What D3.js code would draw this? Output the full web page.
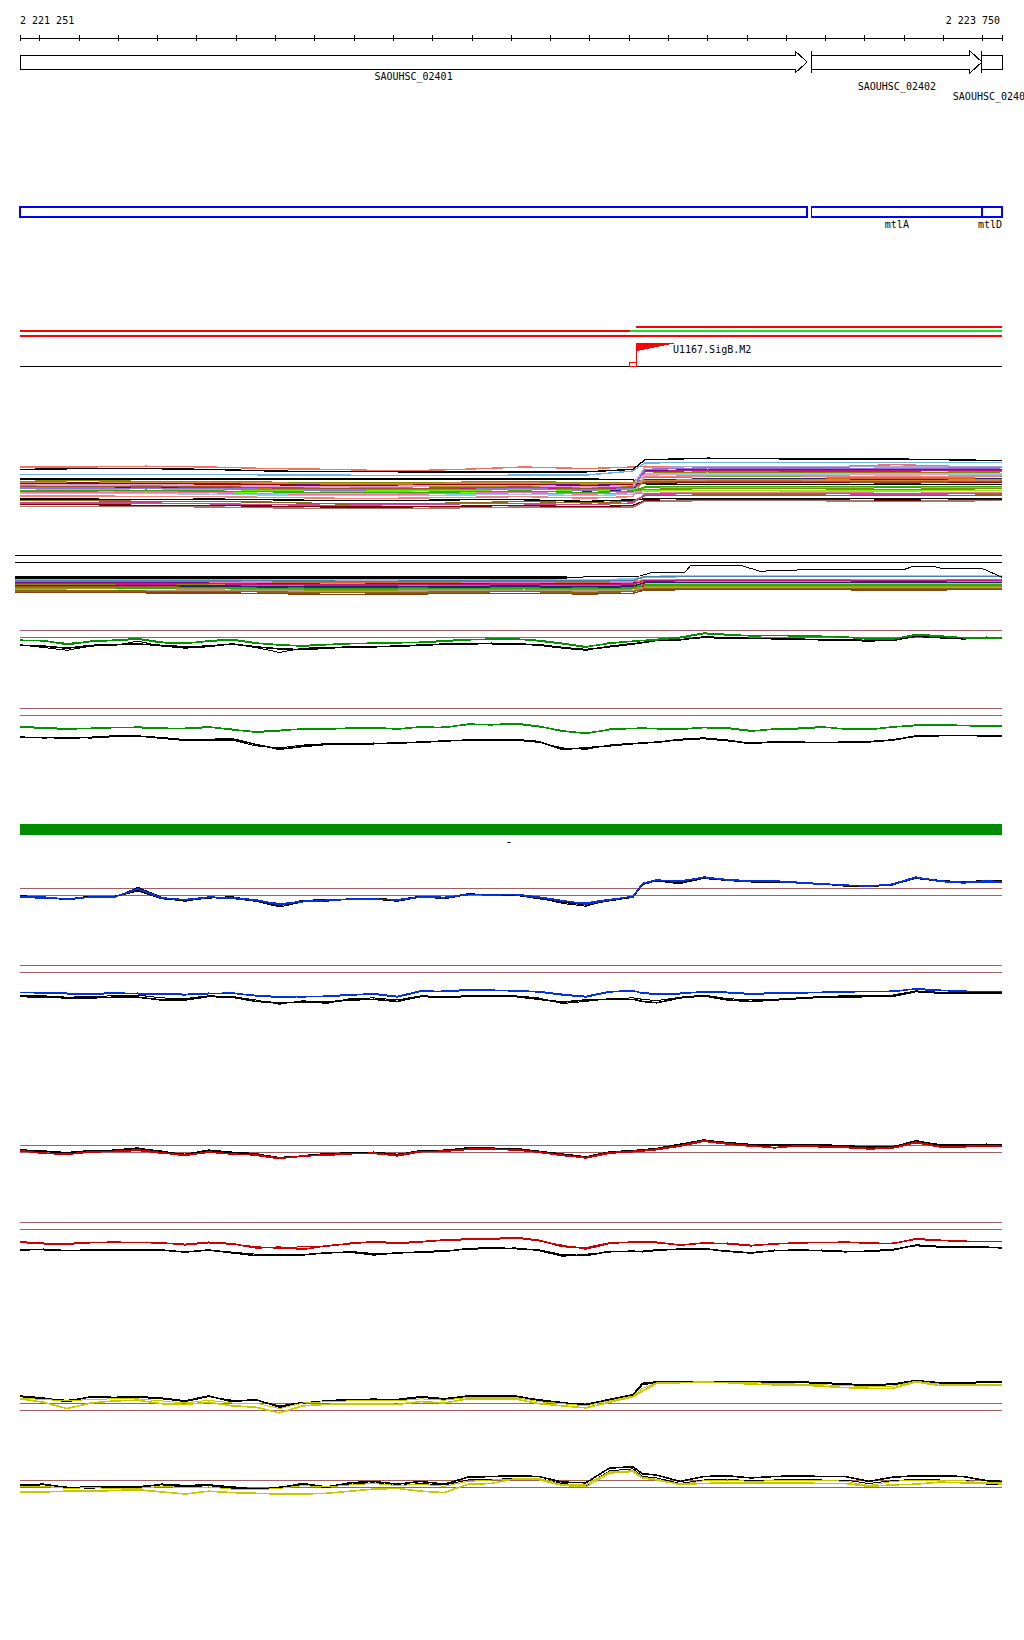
<!DOCTYPE html>
<html><head><meta charset="utf-8">
<script src="https://cdn.jsdelivr.net/npm/d3@7"></script>
<style>
html,body{margin:0;padding:0;background:#fff;overflow:hidden;}
svg{display:block;}
text{font-family:"DejaVu Sans Mono","Liberation Mono",monospace;font-size:10px;fill:#000;}
</style></head><body>
<svg id="chart" width="1024" height="1640"></svg>
<script>
// ---------------- DATA ----------------
const viewStart = 2221251, viewEnd = 2223750;
const rulerLabels = ["2 221 251", "2 223 750"];
const tickPositions = [2221300,2221400,2221500,2221600,2221700,2221800,2221900,2222000,2222100,2222200,2222300,2222400,2222500,2222600,2222700,2222800,2222900,2223000,2223100,2223200,2223300,2223400,2223500,2223600,2223700];

const geneNames  = ["SAOUHSC_02401","SAOUHSC_02402","SAOUHSC_02403"];
const geneStarts = [2221100, 2223266, 2223699];
const geneEnds   = [2223254, 2223699, 2223900];

const operonNames  = ["", "mtlA", "mtlD"];
const operonStarts = [2221100, 2223266, 2223699];
const operonEnds   = [2223254, 2223699, 2223900];

const transcriptStarts = [2222819, 2221100, 2222803, 2221100];
const transcriptEnds   = [2223900, 2222803, 2223900, 2223900];
const transcriptRows   = [0, 1, 1, 2];
const transcriptKinds  = ["red", "red", "green", "red"];

const promoterName = "U1167.SigB.M2";
const promoterPos = 2222819;
const promoterBoxStart = 2222803;

const conditionBarStart = 2221100, conditionBarEnd = 2223900;
const conditionBarLabel = "-";

const probePos = [2221251,2221311,2221371,2221431,2221491,2221551,2221611,2221671,2221731,2221791,
 2221851,2221911,2221971,2222031,2222091,2222151,2222211,2222271,2222331,2222391,
 2222451,2222511,2222571,2222631,2222691,2222751,2222811,2222835,2222871,2222931,
 2222991,2223051,2223111,2223171,2223231,2223291,2223351,2223411,2223471,2223531,
 2223591,2223651,2223711,2223750];

// panel G1
const g1GreenA = [-0.5,-0.5,-1.1,-0.6,-0.5,-0.3,-0.8,-0.9,-0.6,-0.4,-0.9,-1.1,-1.3,-1.1,-0.9,-0.9,-0.8,-0.8,-0.6,-0.4,-0.3,-0.3,-0.5,-0.9,-1.4,-0.9,-0.6,-0.5,-0.4,-0.1,0.5,0.3,0.2,0.2,0.2,0.1,0.0,-0.3,-0.3,0.3,0.1,-0.1,-0.1,-0.1];
const g1GreenB = [-0.4,-0.6,-0.9,-0.7,-0.4,-0.2,-0.7,-1.0,-0.5,-0.3,-0.8,-1.2,-1.2,-1.0,-1.0,-0.8,-0.9,-0.7,-0.5,-0.3,-0.4,-0.2,-0.6,-1.0,-1.5,-0.8,-0.6,-0.5,-0.3,0.0,0.6,0.4,0.1,0.2,0.1,0.1,-0.1,-0.2,-0.3,0.4,0.2,-0.1,0.0,-0.1];
const g1BlackA = [-1.2,-1.3,-1.6,-1.2,-1.1,-1.0,-1.2,-1.4,-1.3,-1.0,-1.4,-1.7,-1.8,-1.6,-1.4,-1.4,-1.3,-1.2,-1.0,-1.0,-0.9,-1.0,-1.1,-1.5,-1.8,-1.4,-1.0,-0.8,-0.5,-0.4,0.0,-0.1,-0.2,-0.2,-0.3,-0.4,-0.4,-0.5,-0.5,0.1,-0.1,-0.2,-0.2,-0.2];
const g1BlackB = [-1.1,-1.5,-1.9,-1.3,-1.2,-0.6,-1.3,-1.6,-1.4,-1.0,-1.5,-2.2,-1.6,-1.5,-1.5,-1.3,-1.3,-1.1,-1.0,-0.9,-1.0,-1.0,-1.2,-1.6,-1.9,-1.3,-0.9,-0.8,-0.5,-0.4,-0.1,-0.2,-0.2,-0.3,-0.3,-0.4,-0.5,-0.6,-0.5,0.2,-0.1,-0.3,-0.2,-0.2];
// panel G2
const g2GreenA = [-1.7,-1.9,-2.0,-1.9,-1.8,-1.8,-1.9,-1.9,-1.7,-2.1,-2.4,-2.2,-2.0,-2.0,-1.9,-1.8,-2.0,-1.7,-1.8,-1.3,-1.4,-1.2,-1.6,-2.3,-2.6,-2.1,-1.9,-1.9,-1.9,-2.0,-1.8,-1.9,-2.3,-2.0,-1.9,-1.7,-2.0,-2.1,-1.7,-1.5,-1.4,-1.5,-1.6,-1.6];
const g2GreenB = [-1.6,-1.8,-1.9,-2.0,-1.8,-1.7,-1.8,-2.0,-1.8,-2.0,-2.5,-2.3,-1.9,-2.1,-1.8,-1.9,-1.9,-1.8,-1.7,-1.4,-1.3,-1.3,-1.7,-2.2,-2.7,-2.0,-1.9,-1.8,-2.0,-2.1,-1.8,-1.8,-2.2,-2.1,-2.0,-1.8,-1.9,-2.0,-1.8,-1.4,-1.5,-1.5,-1.5,-1.6];
const g2BlackA = [-3.2,-3.2,-3.3,-3.2,-3.0,-3.0,-3.3,-3.6,-3.5,-3.4,-4.2,-4.9,-4.5,-4.2,-4.1,-4.1,-4.0,-3.9,-3.7,-3.6,-3.6,-3.5,-3.8,-4.9,-4.7,-4.4,-4.1,-4.0,-3.9,-3.5,-3.3,-3.6,-4.1,-3.8,-3.9,-3.9,-3.9,-3.8,-3.6,-3.0,-2.9,-2.9,-3.0,-3.0];
const g2BlackB = [-3.1,-3.3,-3.2,-3.3,-3.1,-3.0,-3.2,-3.5,-3.7,-3.6,-4.4,-4.7,-4.3,-4.1,-4.2,-4.0,-4.1,-3.8,-3.8,-3.5,-3.7,-3.6,-3.9,-4.7,-4.9,-4.3,-4.0,-4.1,-3.8,-3.6,-3.4,-3.7,-4.0,-3.9,-3.8,-4.0,-3.8,-3.9,-3.5,-3.1,-3.0,-2.9,-2.9,-3.0];
// panel B1
const b1BlueA = [-0.2,-0.3,-0.6,-0.3,-0.3,0.9,-0.4,-0.7,-0.3,-0.4,-0.7,-1.4,-0.9,-0.8,-0.6,-0.6,-0.7,-0.3,-0.4,0.1,0.0,0.1,-0.3,-0.8,-1.3,-0.7,-0.2,1.6,2.1,2.0,2.5,2.2,2.0,2.0,1.8,1.6,1.4,1.3,1.5,2.5,2.0,1.8,2.0,1.9];
const b1BlueB = [-0.3,-0.5,-0.5,-0.4,-0.2,0.8,-0.5,-0.6,-0.4,-0.5,-0.8,-1.2,-1.0,-0.7,-0.7,-0.5,-0.8,-0.2,-0.3,0.0,0.1,0.0,-0.4,-0.9,-1.1,-0.6,-0.3,1.7,2.2,1.9,2.6,2.1,1.9,1.9,1.7,1.5,1.4,1.2,1.6,2.6,1.9,1.7,1.8,1.8];
const b1BlackA = [-0.1,-0.4,-0.6,-0.2,-0.2,0.6,-0.5,-0.8,-0.4,-0.3,-0.8,-1.5,-0.8,-0.7,-0.6,-0.5,-0.7,-0.2,-0.5,0.1,0.0,0.0,-0.5,-1.0,-1.4,-0.8,-0.3,1.5,2.1,1.7,2.4,2.1,1.9,1.8,1.8,1.6,1.3,1.3,1.5,2.4,2.0,1.9,2.0,2.0];
const b1BlackB = [-0.2,-0.3,-0.7,-0.3,-0.4,1.1,-0.3,-0.9,-0.3,-0.5,-0.9,-1.7,-1.0,-0.9,-0.5,-0.6,-0.9,-0.3,-0.4,0.2,0.0,0.1,-0.4,-1.2,-1.6,-0.7,-0.2,1.6,2.0,1.6,2.6,2.2,2.0,2.1,1.7,1.5,1.4,1.2,1.4,2.5,2.1,1.8,2.1,2.0];
// panel B2
const b2BlueA = [-2.9,-3.0,-3.1,-3.1,-3.0,-3.1,-3.1,-3.2,-3.1,-3.0,-3.4,-3.6,-3.5,-3.5,-3.3,-3.1,-3.5,-2.7,-2.8,-2.6,-2.6,-2.7,-2.8,-3.2,-3.5,-2.8,-2.7,-3.0,-3.1,-3.1,-2.8,-2.9,-3.1,-3.0,-3.0,-2.9,-2.8,-2.8,-2.8,-2.4,-2.6,-2.8,-2.8,-2.8];
const b2BlueB = [-2.9,-2.9,-3.0,-3.2,-3.1,-3.0,-3.2,-3.3,-3.0,-3.1,-3.3,-3.5,-3.6,-3.4,-3.2,-3.2,-3.6,-2.8,-2.7,-2.5,-2.7,-2.6,-2.9,-3.3,-3.6,-2.9,-2.6,-3.1,-3.2,-3.0,-2.9,-3.0,-3.2,-3.1,-2.9,-3.0,-2.9,-2.8,-2.7,-2.5,-2.7,-2.7,-2.8,-2.8];
const b2BlackA = [-3.5,-3.6,-3.7,-3.7,-3.6,-3.6,-4.0,-4.0,-3.5,-3.6,-4.2,-4.4,-4.3,-4.3,-4.0,-3.9,-4.2,-3.5,-3.6,-3.5,-3.5,-3.5,-3.9,-4.3,-4.0,-3.9,-3.9,-4.2,-4.4,-3.7,-3.4,-4.0,-4.2,-4.0,-3.8,-3.6,-3.6,-3.5,-3.5,-2.8,-3.0,-3.0,-3.0,-3.0];
const b2BlackB = [-3.3,-3.4,-3.6,-3.5,-3.4,-3.3,-3.7,-3.8,-3.4,-3.5,-4.0,-4.6,-4.1,-4.5,-3.8,-3.7,-4.0,-3.4,-3.5,-3.4,-3.3,-3.4,-3.7,-4.5,-4.2,-3.8,-3.7,-3.9,-4.1,-3.6,-3.3,-3.8,-4.0,-3.9,-3.7,-3.5,-3.4,-3.4,-3.3,-2.7,-2.9,-2.9,-2.9,-2.9];
// panel R1
const r1RedA = [0.2,-0.2,-0.3,0.0,0.1,0.3,-0.1,-0.5,0.0,-0.3,-0.4,-0.9,-0.6,-0.4,-0.2,-0.2,-0.5,0.1,0.1,0.4,0.4,0.3,0.0,-0.5,-0.8,-0.1,0.1,0.2,0.4,0.9,1.6,1.2,0.9,0.6,0.9,0.8,0.7,0.5,0.6,1.4,0.8,0.8,0.9,0.9];
const r1RedB = [0.1,-0.1,-0.4,0.1,0.0,0.2,-0.2,-0.4,-0.1,-0.2,-0.5,-1.0,-0.5,-0.5,-0.3,-0.1,-0.6,0.0,0.2,0.3,0.3,0.4,-0.1,-0.4,-0.9,-0.2,0.0,0.1,0.3,0.8,1.5,1.1,0.8,0.7,0.8,0.7,0.6,0.4,0.5,1.3,0.7,0.7,0.8,0.8];
const r1BlackA = [0.3,0.1,-0.1,0.2,0.2,0.5,0.1,-0.4,0.2,-0.1,-0.3,-0.8,-0.6,-0.3,-0.1,-0.1,-0.4,0.2,0.2,0.6,0.5,0.5,0.1,-0.3,-0.7,0.0,0.2,0.3,0.5,1.1,1.7,1.3,1.0,1.0,1.0,1.0,0.9,0.7,0.7,1.6,1.0,1.0,1.1,1.0];
const r1BlackB = [0.2,0.2,-0.2,0.1,0.3,0.6,0.0,-0.3,0.3,0.0,-0.2,-0.9,-0.5,-0.2,-0.2,0.0,-0.3,0.1,0.3,0.5,0.6,0.4,0.0,-0.4,-0.8,-0.1,0.1,0.2,0.4,1.0,1.6,1.4,1.1,0.9,1.1,0.9,0.8,0.6,0.8,1.5,1.1,0.9,1.0,1.0];
// panel R2
const r2RedA = [-1.9,-2.1,-2.1,-1.9,-1.9,-1.9,-2.0,-2.2,-1.9,-2.1,-2.7,-2.6,-2.9,-2.4,-2.1,-1.8,-2.0,-1.8,-1.6,-1.5,-1.4,-1.2,-1.6,-2.5,-2.7,-2.0,-1.9,-1.8,-1.9,-2.3,-2.0,-2.1,-2.4,-2.1,-2.0,-1.9,-1.9,-2.0,-2.1,-1.4,-1.6,-1.8,-1.8,-1.8];
const r2RedB = [-1.8,-2.0,-2.2,-2.0,-1.8,-2.0,-1.9,-2.3,-2.0,-2.2,-2.5,-2.8,-2.5,-2.5,-2.0,-1.9,-2.1,-1.9,-1.5,-1.4,-1.5,-1.3,-1.7,-2.3,-2.9,-2.1,-1.8,-1.9,-2.0,-2.2,-2.1,-2.0,-2.3,-2.2,-1.9,-2.0,-1.8,-2.1,-2.0,-1.5,-1.7,-1.7,-1.8,-1.8];
const r2BlackA = [-3.0,-2.9,-3.1,-3.0,-3.0,-3.0,-3.0,-3.3,-3.0,-3.4,-3.8,-3.7,-3.7,-3.4,-3.3,-3.7,-3.4,-3.3,-3.2,-2.8,-2.7,-2.8,-3.0,-3.7,-3.8,-3.2,-3.2,-3.2,-3.0,-2.9,-2.8,-3.2,-3.4,-3.1,-3.0,-3.1,-3.2,-3.2,-3.0,-2.3,-2.5,-2.6,-2.6,-2.7];
const r2BlackB = [-2.9,-3.0,-3.0,-3.1,-2.9,-3.1,-3.1,-3.2,-3.1,-3.3,-3.6,-3.8,-3.6,-3.5,-3.2,-3.5,-3.5,-3.2,-3.1,-2.9,-2.8,-2.7,-3.1,-3.9,-3.6,-3.3,-3.1,-3.3,-3.1,-2.8,-2.9,-3.1,-3.5,-3.0,-3.1,-3.0,-3.3,-3.1,-2.9,-2.4,-2.6,-2.5,-2.7,-2.7];
// panel Y1
const y1YellowA = [1.6,1.1,0.2,1.0,1.3,1.4,0.9,0.8,1.1,0.6,0.4,-0.4,0.6,0.8,0.9,0.9,0.8,1.2,1.0,1.6,1.6,1.6,0.9,0.6,0.3,1.1,1.9,2.7,3.8,3.9,4.0,3.9,3.7,3.6,3.6,3.4,3.2,3.1,3.1,4.0,3.5,3.5,3.5,3.5];
const y1YellowB = [1.7,1.5,1.3,1.5,1.6,1.6,1.3,1.0,1.4,1.0,1.0,0.2,1.0,1.2,1.3,1.3,1.3,1.6,1.4,1.8,1.8,1.8,1.2,0.9,0.6,1.3,2.0,3.1,3.9,4.0,4.0,4.0,3.9,3.8,3.7,3.6,3.5,3.3,3.4,4.1,3.7,3.7,3.7,3.7];
const y1BlackA = [2.0,1.7,1.2,1.9,1.8,1.9,1.7,1.3,2.0,1.2,1.5,0.4,1.0,1.3,1.5,1.5,1.5,1.9,1.6,2.0,2.0,2.0,1.4,1.0,0.8,1.5,2.2,3.8,4.0,4.1,4.1,4.1,4.1,4.0,4.0,3.9,3.7,3.6,3.7,4.2,3.9,3.9,4.0,4.0];
const y1BlackB = [1.9,1.6,1.4,1.8,1.7,1.8,1.6,1.2,1.9,1.4,1.4,0.6,1.1,1.2,1.4,1.6,1.4,1.8,1.5,1.9,1.9,1.9,1.5,1.1,0.7,1.4,2.1,3.6,3.9,4.0,4.0,4.0,4.0,3.9,3.9,3.8,3.6,3.5,3.6,4.1,3.8,3.8,3.9,3.9];
// panel Y2
const y2YellowA = [-0.7,-0.7,-0.6,-0.6,-0.5,-0.4,-0.7,-1.0,-0.6,-0.8,-0.9,-1.0,-1.0,-0.9,-0.6,-0.3,-0.2,-0.6,-0.8,0.4,0.5,1.2,1.2,0.3,0.3,2.1,2.2,1.3,1.0,0.4,0.5,0.6,0.6,0.6,0.6,0.5,0.5,0.1,0.3,0.4,0.7,0.6,0.6,0.6];
const y2YellowB = [0.0,0.1,-0.2,-0.1,-0.2,-0.2,0.1,-0.1,0.0,-0.3,-0.4,-0.2,0.2,0.0,0.3,0.5,0.2,0.4,0.1,0.8,1.0,1.1,1.0,0.2,0.0,1.9,2.4,1.4,1.1,0.3,0.9,1.0,0.8,0.9,1.0,1.0,0.8,0.2,0.8,1.0,1.0,0.9,0.5,0.4];
const y2BlackA = [0.3,0.4,-0.1,0.0,0.0,-0.1,0.4,0.2,0.3,0.0,-0.3,-0.1,0.5,0.0,0.6,0.8,0.4,0.8,0.4,1.4,1.5,1.6,1.5,0.7,0.6,2.7,2.9,1.9,1.7,0.8,1.5,1.6,1.3,1.5,1.6,1.5,1.5,0.8,1.4,1.6,1.6,1.5,0.9,0.8];
const y2BlackB = [0.2,0.3,0.0,-0.2,0.1,0.1,0.3,0.0,0.2,-0.2,-0.4,0.0,0.3,-0.1,0.4,0.6,0.2,0.5,0.3,1.0,1.1,1.2,1.2,0.5,0.2,2.3,2.6,1.5,1.3,0.5,1.0,1.1,0.9,1.0,1.1,1.0,1.0,0.5,0.9,1.1,1.0,1.0,0.4,0.3];

const refLevels = [0, 1];

// multi-condition bundle 1
const bundle1Pos = [2221251,2221411,2221572,2221732,2221892,2222053,2222213,2222373,2222533,2222694,2222811,2222841,2223002,2223241,2223480,2223750];
const bundle1Colors = ["#f47060","#000000","#6cb4f0","#000000","#8b8b00","#d2691e","#8b008b","#a9a0dc","#9a9a20","#cd6a2a","#c71585","#1a2a6e","#66ee00","#888810","#7cfc00","#ff69b4","#87cefa","#fa8072","#000000","#8b6914","#cc4499","#800000","#a0786e","#cd853f","#990000","#a0522d","#dda0dd","#33aa00","#9370db"];
const bundle1Values = [
 [12.0,12.0,12.1,12.0,11.8,11.7,11.5,11.7,12.0,11.8,12.0,12.1,12.0,11.9,12.3,11.9],
 [11.7,11.8,11.8,11.7,11.5,11.4,11.4,11.4,11.4,11.4,11.7,12.9,13.1,13.0,13.0,12.8],
 [11.1,11.1,11.1,11.1,11.0,11.0,10.9,10.9,11.0,11.0,11.5,12.5,12.6,12.6,12.6,12.6],
 [10.5,10.5,10.5,10.5,10.5,10.5,10.5,10.5,10.5,10.5,10.4,9.9,9.8,9.8,9.8,9.8],
 [10.2,10.3,10.2,10.2,10.1,10.0,10.0,10.1,10.2,10.0,10.1,11.2,11.4,11.4,11.3,11.4],
 [10.0,10.0,10.1,10.0,9.9,9.8,9.8,9.9,10.0,9.8,9.9,10.4,10.5,10.5,10.6,10.5],
 [9.9,9.9,9.8,9.9,9.8,9.7,9.7,9.8,9.9,9.7,9.8,11.5,11.7,11.7,11.6,11.7],
 [9.8,9.8,9.9,9.7,9.6,9.7,9.6,9.8,9.8,9.6,9.7,11.9,12.1,12.1,12.0,12.0],
 [9.7,9.6,9.7,9.7,9.5,9.4,9.5,9.6,9.6,9.4,9.6,10.7,10.8,10.8,10.7,10.8],
 [9.5,9.5,9.6,9.5,9.3,9.3,9.2,9.4,9.5,9.3,9.4,10.2,10.3,10.3,10.2,10.3],
 [9.5,9.6,9.5,9.4,9.4,9.3,9.3,9.3,9.4,9.2,9.3,11.4,11.6,11.5,11.5,11.6],
 [9.3,9.3,9.4,9.3,9.2,9.1,9.1,9.2,9.3,9.0,9.2,10.4,10.5,10.5,10.4,10.5],
 [9.3,9.2,9.3,9.2,9.1,9.0,9.0,9.1,9.2,9.1,9.2,9.4,9.5,9.5,9.4,9.5],
 [9.1,9.1,9.0,9.0,8.9,8.8,8.8,8.9,9.0,8.8,9.0,9.2,9.3,9.3,9.2,9.3],
 [8.9,8.9,8.8,8.8,8.7,8.6,8.7,8.8,8.8,8.6,8.8,9.0,9.1,9.0,9.0,9.1],
 [8.9,8.8,8.9,8.8,8.6,8.5,8.6,8.7,8.8,8.6,8.8,8.7,8.8,8.8,8.7,8.8],
 [8.7,8.7,8.7,8.6,8.5,8.4,8.4,8.5,8.6,8.4,8.6,11.0,11.1,11.1,11.0,11.1],
 [8.4,8.4,8.3,8.3,8.2,8.1,8.1,8.2,8.3,8.1,8.3,10.8,10.9,10.9,10.8,10.9],
 [8.0,8.0,7.9,8.0,7.9,7.8,7.8,7.9,7.9,7.7,7.9,8.0,8.1,8.1,8.0,8.1],
 [7.8,7.8,7.7,7.7,7.6,7.4,7.4,7.5,7.7,7.5,7.7,8.4,8.5,8.5,8.4,8.5],
 [7.5,7.5,7.5,7.4,7.3,7.2,7.3,7.4,7.4,7.3,7.5,8.6,8.7,8.7,8.6,8.7],
 [7.3,7.3,7.2,7.2,7.1,7.0,7.0,7.1,7.2,7.0,7.2,7.8,7.9,7.9,7.8,7.9],
 [7.1,7.1,7.1,7.0,6.9,6.8,6.8,6.9,7.0,6.9,7.0,7.7,7.8,7.8,7.7,7.8],
 [10.1,10.1,10.0,10.1,10.0,9.9,9.9,10.0,10.0,9.9,10.0,10.3,10.4,10.4,10.3,10.4],
 [9.9,10.0,9.9,9.8,9.8,9.6,9.7,9.8,9.8,9.6,9.8,10.0,10.1,10.1,10.0,10.1],
 [9.6,9.6,9.5,9.6,9.4,9.3,9.3,9.4,9.5,9.3,9.5,10.1,10.2,10.2,10.1,10.2],
 [9.8,9.7,9.8,9.7,9.6,9.5,9.6,9.7,9.7,9.5,9.7,11.1,11.2,11.2,11.1,11.2],
 [9.0,9.0,9.1,9.0,8.9,8.8,8.8,8.9,9.0,8.8,9.0,9.5,9.6,9.6,9.5,9.6],
 [9.4,9.4,9.3,9.3,9.2,9.1,9.2,9.2,9.3,9.1,9.3,11.7,11.9,11.9,11.8,11.9]
];

// multi-condition bundle 2
const bundle2Pos = [2221238,2221411,2221572,2221732,2221892,2222053,2222213,2222373,2222533,2222694,2222811,2222841,2223002,2223241,2223480,2223750];
const bundle2Colors = ["#87cefa","#a9a0dc","#fa8072","#d2691e","#ff69b4","#8b008b","#cd853f","#8b8b00","#7cfc00","#a0522d","#9a9a20","#bc8f8f","#990000","#1a2a6e","#4682b4","#8b6914","#c71585","#33aa00","#8b4513"];
const bundle2Values = [
 [11.3,11.3,11.2,11.3,11.2,11.1,11.1,11.2,11.2,11.0,11.3,11.9,12.1,12.1,12.0,12.1],
 [11.0,11.1,11.0,11.0,10.9,10.8,10.8,10.9,11.0,10.9,11.0,11.7,11.9,11.9,11.8,11.9],
 [10.8,10.8,10.7,10.8,10.6,10.5,10.5,10.6,10.7,10.4,10.6,11.1,11.2,11.2,11.1,11.2],
 [10.6,10.5,10.6,10.5,10.4,10.2,10.3,10.4,10.5,10.3,10.4,10.9,11.0,11.0,10.9,11.0],
 [10.4,10.4,10.3,10.4,10.2,10.0,10.1,10.2,10.3,10.1,10.3,10.7,10.8,10.8,10.7,10.8],
 [10.3,10.2,10.3,10.2,10.1,9.9,10.0,10.1,10.2,10.0,10.2,10.5,10.6,10.6,10.5,10.6],
 [10.0,10.0,9.9,10.0,9.8,9.6,9.7,9.8,9.9,9.7,9.9,10.4,10.5,10.5,10.4,10.5],
 [9.8,9.7,9.8,9.7,9.5,9.3,9.4,9.5,9.7,9.5,9.7,9.9,10.0,10.0,9.9,10.0],
 [9.4,9.4,9.5,9.4,9.2,9.0,9.1,9.2,9.3,9.1,9.3,10.1,10.2,10.2,10.1,10.2],
 [9.5,9.5,9.4,9.5,9.3,9.1,9.2,9.3,9.4,9.2,9.4,9.8,9.9,9.9,9.8,9.9],
 [9.0,9.0,8.9,8.9,8.6,8.4,8.5,8.6,8.8,8.6,8.8,9.3,9.4,9.4,9.3,9.4],
 [8.6,8.4,8.4,8.5,8.3,8.1,8.2,8.3,8.4,8.2,8.4,9.1,9.2,9.2,9.1,9.2],
 [9.2,9.2,9.1,9.2,9.0,8.8,8.9,9.0,9.1,8.9,9.1,9.6,9.7,9.7,9.6,9.7],
 [9.6,9.6,9.6,9.5,9.4,9.2,9.3,9.4,9.5,9.3,9.5,10.3,10.4,10.4,10.3,10.4],
 [10.9,10.9,10.8,10.9,10.8,10.7,10.7,10.8,10.8,10.7,10.9,11.8,11.9,11.9,11.8,11.9],
 [8.3,8.3,8.2,8.2,8.0,7.8,7.9,8.0,8.1,7.9,8.1,8.8,8.9,8.9,8.8,8.9],
 [10.1,10.1,10.0,10.1,9.9,9.7,9.8,9.9,10.0,9.8,10.0,10.8,10.9,10.9,10.8,10.9],
 [9.1,9.1,9.0,9.1,8.9,8.7,8.8,8.9,9.0,8.8,9.0,9.7,9.8,9.8,9.7,9.8],
 [7.9,7.9,7.8,7.8,7.6,7.4,7.5,7.6,7.7,7.5,7.7,8.5,8.6,8.6,8.5,8.6]
];
const bundle2TopPos  = [2221238,2222643,2222727,2222829,2222859,2222943,2222958,2223083,2223134,2223292,2223503,2223521,2223579,2223597,2223699,2223750];
const bundle2TopVals = [11.6,11.6,11.9,12.0,12.9,12.9,14.7,14.7,13.2,13.7,13.7,14.3,14.3,13.9,13.9,11.7];

// ---------------- DRAW ----------------
const svg = d3.select("#chart");
svg.append("rect").attr("width",1024).attr("height",1640).attr("fill","#fff");
const g = svg.append("g").attr("shape-rendering","crispEdges");
const x = d3.scaleLinear().domain([viewStart, viewEnd]).range([20, 1002]);
const cx = v => Math.max(x.range()[0], Math.min(x.range()[1], x(v)));

// ruler
const rulerY = 38;
g.append("line").attr("x1",x(viewStart)).attr("x2",x(viewEnd)).attr("y1",rulerY).attr("y2",rulerY).attr("stroke","#000");
g.selectAll(".tick").data([viewStart].concat(tickPositions, [viewEnd])).join("line")
 .attr("x1",d=>Math.round(x(d))+0.5).attr("x2",d=>Math.round(x(d))+0.5).attr("y1",rulerY-3).attr("y2",rulerY+3).attr("stroke","#000");
svg.append("text").attr("x",x(viewStart)).attr("y",24).text(rulerLabels[0]);
svg.append("text").attr("x",1000).attr("y",24).attr("text-anchor","end").text(rulerLabels[1]);

// gene arrows
const bodyT = 55, bodyB = 69, headT = 51, headB = 73, headL = 12;
geneNames.forEach((name,i)=>{
  const s = x(geneStarts[i]), e = x(geneEnds[i]);
  const xs = cx(geneStarts[i]), xe = cx(geneEnds[i]);
  const truncL = s < x.range()[0], truncR = e > x.range()[1];
  let p;
  if (!truncR) {
    const hb = xe - headL;
    p = `M${xs},${bodyT}H${hb}V${headT}L${xe},${(headT+headB)/2}L${hb},${headB}V${bodyB}H${xs}Z`;
  } else {
    p = `M${xs},${bodyT}H${xe}V${bodyB}H${xs}Z`;
  }
  g.append("path").attr("d",p).attr("fill","#fff").attr("stroke","#000");
  if (!truncL) g.append("line").attr("x1",xs).attr("x2",xs).attr("y1",headT).attr("y2",headB).attr("stroke","#000");
  svg.append("text").attr("x",(xs+xe)/2).attr("y",80 + i*10).attr("text-anchor","middle").text(name);
});

// operon boxes
operonNames.forEach((name,i)=>{
  const xs = cx(operonStarts[i]), xe = cx(operonEnds[i]);
  g.append("rect").attr("x",xs).attr("y",207).attr("width",xe-xs).attr("height",10)
   .attr("fill","none").attr("stroke","#0000ff").attr("stroke-width",1.3);
  if (name) {
    const w = name.length*6.02;
    const c = Math.min((xs+xe)/2, x.range()[1] - w/2);
    svg.append("text").attr("x",c).attr("y",228).attr("text-anchor","middle").text(name);
  }
});

// transcripts
const rowY = [327, 331, 336];
const kindColor = {red:"#ff0000", green:"#22dd22"};
transcriptStarts.forEach((s,i)=>{
  g.append("line").attr("x1",cx(s)).attr("x2",cx(transcriptEnds[i]))
   .attr("y1",rowY[transcriptRows[i]]).attr("y2",rowY[transcriptRows[i]])
   .attr("stroke",kindColor[transcriptKinds[i]]).attr("stroke-width",1.3);
});

// promoter
const baseY = 366;
g.append("line").attr("x1",x(viewStart)).attr("x2",x(viewEnd)).attr("y1",baseY).attr("y2",baseY).attr("stroke","#000");
const px = Math.round(x(promoterPos));
g.append("line").attr("x1",px).attr("x2",px).attr("y1",343).attr("y2",baseY).attr("stroke","#ff0000");
g.append("path").attr("d",`M${px},343L${px+40},343L${px},351Z`).attr("fill","#ff0000");
g.append("rect").attr("x",x(promoterBoxStart)).attr("y",362).attr("width",px-x(promoterBoxStart)).attr("height",4)
 .attr("fill","none").attr("stroke","#ff0000");
svg.append("text").attr("x",px+37).attr("y",353).text(promoterName);

// bundle 1
const yb1 = d3.scaleLinear().domain([6,14]).range([515,451]);
const lb1 = d3.line().x((d,i)=>x(bundle1Pos[i])).y(d=>yb1(d));
g.selectAll(".b1").data(bundle1Values).join("path").attr("d",lb1).attr("fill","none")
 .attr("stroke",(d,i)=>bundle1Colors[i]).attr("stroke-width",1.4);

// bundle 2 frame + lines
[555, 562].forEach(yy=>g.append("line").attr("x1",x(bundle2Pos[0])).attr("x2",x(viewEnd)).attr("y1",yy).attr("y2",yy).attr("stroke","#000"));
const yb2 = d3.scaleLinear().domain([6,14]).range([600,568]);
const lb2 = d3.line().x((d,i)=>x(bundle2Pos[i])).y(d=>yb2(d));
g.selectAll(".b2").data(bundle2Values).join("path").attr("d",lb2).attr("fill","none")
 .attr("stroke",(d,i)=>bundle2Colors[i]).attr("stroke-width",1.4);
const lt2 = d3.line().x((d,i)=>x(bundle2TopPos[i])).y(d=>yb2(d));
g.append("path").attr("d",lt2(bundle2TopVals)).attr("fill","none").attr("stroke","#000");
g.append("path").attr("d",lt2(bundle2TopVals.slice(0,2))).attr("fill","none").attr("stroke","#000").attr("stroke-width",2.5);

// condition bar
g.append("rect").attr("x",cx(conditionBarStart)).attr("y",824).attr("width",cx(conditionBarEnd)-cx(conditionBarStart)).attr("height",11).attr("fill","#008c00");
svg.append("text").attr("x",509).attr("y",846).attr("text-anchor","middle").style("font-size","13px").text(conditionBarLabel);

// signal panels
const panels = [
 {y0:637, color:"#009000", series:[g1GreenA,g1GreenB], black:[g1BlackA,g1BlackB]},
 {y0:715, color:"#009000", series:[g2GreenA,g2GreenB], black:[g2BlackA,g2BlackB]},
 {y0:895, color:"#0033dd", series:[b1BlueA,b1BlueB], black:[b1BlackA,b1BlackB]},
 {y0:972, color:"#0033dd", series:[b2BlueA,b2BlueB], black:[b2BlackA,b2BlackB]},
 {y0:1152, color:"#cc0000", series:[r1RedA,r1RedB], black:[r1BlackA,r1BlackB]},
 {y0:1229, color:"#cc0000", series:[r2RedA,r2RedB], black:[r2BlackA,r2BlackB]},
 {y0:1410, color:"#c8c800", series:[y1YellowA,y1YellowB], black:[y1BlackA,y1BlackB]},
 {y0:1487, color:"#c8c800", series:[y2YellowA,y2YellowB], black:[y2BlackA,y2BlackB]}
];
panels.forEach(p=>{
  const ys = d3.scaleLinear().domain([0,1]).range([p.y0, p.y0-7]);
  refLevels.forEach(v=>g.append("line").attr("x1",x(viewStart)).attr("x2",x(viewEnd))
    .attr("y1",ys(v)).attr("y2",ys(v)).attr("stroke","#a06060"));
  const ln = d3.line().x((d,i)=>x(probePos[i])).y(d=>ys(d));
  p.black.forEach((s,k)=>g.append("path").attr("d",ln(s)).attr("fill","none").attr("stroke","#000").attr("stroke-width",k===0?1.6:1));
  p.series.forEach((s,k)=>g.append("path").attr("d",ln(s)).attr("fill","none").attr("stroke",p.color).attr("stroke-width",k===0?1.6:1));
});
</script>
</body></html>
